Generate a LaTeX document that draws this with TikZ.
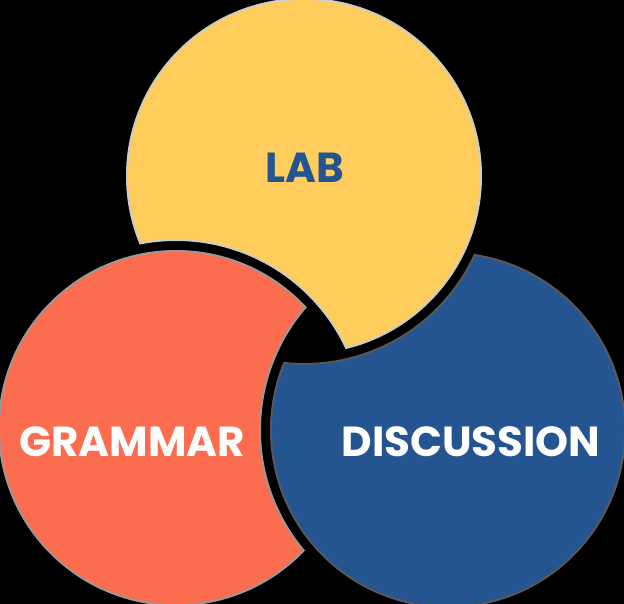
\documentclass[tikz,border=0pt]{standalone}
\usepackage{fontspec}
\setmainfont{Poppins}
\definecolor{labyellow}{RGB}{254,205,91}
\definecolor{grammarred}{RGB}{252,109,80}
\definecolor{discblue}{RGB}{36,85,145}
\tikzset{
  blobtext/.style={inner sep=0pt, font=\fontsize{42}{46}\selectfont\bfseries},
}
\begin{document}
\begin{tikzpicture}[x=1pt,y=-1pt]
\fill [black] (0,0) rectangle (624,604);
\useasboundingbox (0,0) rectangle (624,604);
\coordinate (lab) at (304,176);
\coordinate (grammar) at (176,428);
\coordinate (discussion) at (448,430);
% yellow, cut by the red one
\begin{scope}[even odd rule]
\clip (grammar) circle (187pt) (-20,-20) rectangle (644,624);
\fill [black!20] (lab) circle (178pt);
\end{scope}
\begin{scope}[even odd rule]
\clip (grammar) circle (189pt) (-20,-20) rectangle (644,624);
\fill [labyellow] (lab) circle (176pt);
\end{scope}
% red, cut by the blue one
\begin{scope}[even odd rule]
\clip (discussion) circle (187pt) (-20,-20) rectangle (644,624);
\fill [black!40] (grammar) circle (178pt);
\end{scope}
\begin{scope}[even odd rule]
\clip (discussion) circle (189pt) (-20,-20) rectangle (644,624);
\fill [grammarred] (grammar) circle (176pt);
\end{scope}
% blue, cut by the yellow one
\begin{scope}[even odd rule]
\clip (lab) circle (187pt) (-20,-20) rectangle (644,624);
\fill [black!65] (discussion) circle (178pt);
\end{scope}
\begin{scope}[even odd rule]
\clip (lab) circle (189pt) (-20,-20) rectangle (644,624);
\fill [discblue] (discussion) circle (176pt);
\end{scope}
% texts
\node [blobtext, text=discblue] (labtext) at (305,168) {LAB};
\node [blobtext, text=white] (grammartext) at (132,442) {GRAMMAR};
\node [blobtext, text=white] (discussiontext) at (471,442) {DISCUSSION};
\end{tikzpicture}
\end{document}
